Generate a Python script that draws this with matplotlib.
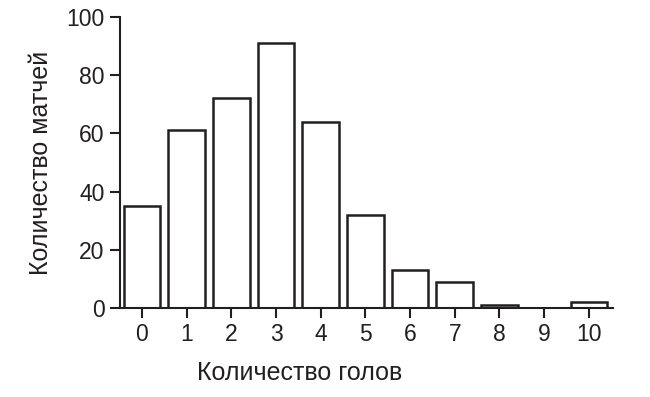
import matplotlib
matplotlib.use("Agg")
import matplotlib.pyplot as plt

goals = [0, 1, 2, 3, 4, 5, 6, 7, 8, 9, 10]
matches = [35, 61, 72, 91, 64, 32, 13, 9, 1, 0, 2]
yticks = [0, 20, 40, 60, 80, 100]
xlabel = "Количество голов"
ylabel = "Количество матчей"

plt.rcParams['font.family'] = ['Liberation Sans', 'DejaVu Sans']
ink = '#231f20'

fig = plt.figure(figsize=(6.5, 3.97), dpi=100)
ax = fig.add_axes([120/650, 1 - 308/397, (613-120)/650, (308-17)/397])

ax.bar(goals, matches, width=0.82, facecolor='white', edgecolor=ink, linewidth=1.8)
ax.set_xlim(-0.49, 10.54)
ax.set_ylim(0, 100)
ax.set_xticks(goals)
ax.set_yticks(yticks)
for s in ['top', 'right']:
    ax.spines[s].set_visible(False)
for s in ['left', 'bottom']:
    ax.spines[s].set_linewidth(1.5)
    ax.spines[s].set_color(ink)
ax.tick_params(axis='both', direction='out', length=7, width=1.5, color=ink,
               labelsize=16.5, labelcolor=ink, pad=4)
ax.set_xlabel(xlabel, fontsize=18, color=ink)
ax.xaxis.set_label_coords((300-120)/493, -(373-308)/291, transform=ax.transAxes)
ax.xaxis.label.set_va('center')
ax.set_ylabel(ylabel, fontsize=18, color=ink, labelpad=10)

fig.savefig("out.png", dpi=100)
